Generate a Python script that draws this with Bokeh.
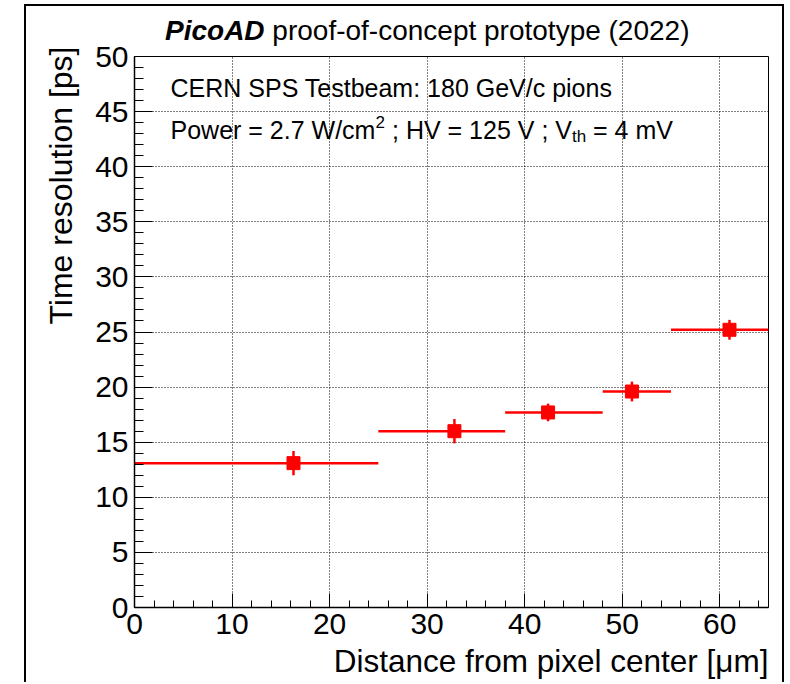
from bokeh.plotting import figure
from bokeh.models import Label, Range1d, SingleIntervalTicker, ColumnDataSource, Title, Div
from bokeh.layouts import column
from bokeh.embed import file_html
from bokeh.resources import INLINE

# ---- data ----
x_center = [16.3, 32.8, 42.4, 51.0, 61.0]
x_low = [0, 25, 38, 48, 55]
x_high = [25, 38, 48, 55, 65]
time_res = [13.1, 16.0, 17.7, 19.6, 25.2]
time_err = [1.1, 1.1, 0.8, 0.9, 0.9]

x_limits = (0, 65)
y_limits = (0, 50)

FONT = "Liberation Sans"

src = ColumnDataSource(dict(
    x=x_center, xl=x_low, xh=x_high, y=time_res,
    yl=[v - e for v, e in zip(time_res, time_err)],
    yh=[v + e for v, e in zip(time_res, time_err)],
))

title_div = Div(
    text=("<div style=\"font-family:'Liberation Sans'; font-size:28px; line-height:28px; "
          "color:black; white-space:nowrap; padding-left:139px; padding-top:11px; overflow:visible;\">"
          "<b><i>PicoAD</i></b> proof-of-concept prototype (2022)</div>"),
    width=756, height=20, margin=(0, 0, 0, 0), styles={"overflow": "visible"})

p = figure(width=756, height=656,
           x_range=Range1d(*x_limits), y_range=Range1d(*y_limits),
           output_backend="svg", toolbar_location=None,
           min_border_left=108, min_border_right=14,
           min_border_top=30, min_border_bottom=75, margin=(0, 0, 0, 0))

p.background_fill_color = "white"
p.border_fill_color = None
p.outline_line_color = "black"
p.outline_line_width = 1

xt = SingleIntervalTicker(interval=10, num_minor_ticks=5)
yt = SingleIntervalTicker(interval=5, num_minor_ticks=5)
p.xaxis.ticker = xt
p.yaxis.ticker = yt
p.xgrid.ticker = xt
p.ygrid.ticker = yt

for g in (p.xgrid, p.ygrid):
    g.grid_line_color = "black"
    g.grid_line_dash = "1 2"
    g.grid_line_width = 1
    g.grid_line_alpha = 1.0

p.axis.axis_line_width = 1.5
p.axis.axis_line_color = "black"
p.axis.major_tick_line_color = "black"
p.axis.minor_tick_line_color = "black"
p.axis.major_tick_out = 0
p.axis.minor_tick_out = 0
p.xaxis.major_tick_in = 14
p.xaxis.minor_tick_in = 7
p.yaxis.major_tick_in = 18
p.yaxis.minor_tick_in = 9
p.axis.major_label_text_font = FONT
p.axis.major_label_text_font_size = "30px"
p.axis.major_label_text_color = "black"
p.xaxis.major_label_standoff = 6
p.yaxis.major_label_standoff = 6

# axis titles, right-aligned at the axis ends (ROOT style)
p.add_layout(Title(text="Distance from pixel center [μm]", align="right", standoff=8,
                   text_font=FONT, text_font_size="31.5px", text_font_style="normal",
                   text_color="black"), "below")
p.add_layout(Title(text="Time resolution [ps]", align="right", standoff=28, offset=-10,
                   text_font=FONT, text_font_size="32px", text_font_style="normal",
                   text_color="black"), "left")

# error bars and markers
p.segment(x0="xl", x1="xh", y0="y", y1="y", source=src, line_color="#ff0000", line_width=2.5)
p.segment(x0="x", x1="x", y0="yl", y1="yh", source=src, line_color="#ff0000", line_width=2.5)
p.scatter(x="x", y="y", source=src, marker="square", size=13,
          fill_color="#ff0000", line_color="#ff0000")

def lab(text, sx, sy, size, style="normal"):
    p.add_layout(Label(x=sx, y=sy, x_units="screen", y_units="screen", text=text,
                       text_font=FONT, text_font_size=size, text_font_style=style,
                       text_color="black", text_baseline="alphabetic"))

lab("CERN SPS Testbeam: 180 GeV/c pions", 36, 520, "25px")
lab("Power = 2.7 W/cm", 36, 478, "25px")
lab("2", 36 + 205, 486, "17px")
lab("; HV = 125 V ; V", 36 + 221.5, 478, "25px")
lab("th", 36 + 401.5, 471, "17px")
lab("= 4 mV", 36 + 422.5, 478, "25px")

layout = column(title_div, p, margin=(4, 0, 0, 24), spacing=0,
                styles={"border-left": "2px solid black", "border-right": "2px solid black",
                        "border-top": "2px solid black", "background": "white"})

open("out.html", "w").write(file_html(layout, INLINE))
